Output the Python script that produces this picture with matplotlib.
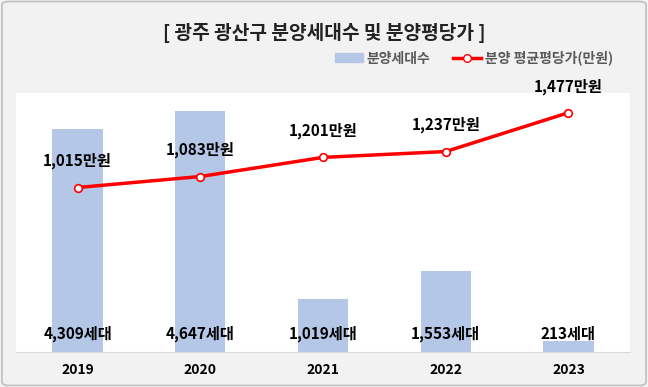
import matplotlib.pyplot as plt
from matplotlib.patches import FancyBboxPatch
from matplotlib.lines import Line2D
from matplotlib.patches import Patch

plt.rcParams['font.family'] = ['Noto Sans CJK KR', 'DejaVu Sans']

years = ["2019", "2020", "2021", "2022", "2023"]
units = [4309, 4647, 1019, 1553, 213]
prices = [1015, 1083, 1201, 1237, 1477]

fig = plt.figure(figsize=(6.48, 3.87), dpi=100, facecolor="#F2F2F2")
fig.patches.append(FancyBboxPatch((0.003, 0.004), 0.994, 0.992, boxstyle="round,pad=0,rounding_size=0.01",
                                  transform=fig.transFigure, fill=False, edgecolor="#BFBFBF", lw=1.2))

ax = fig.add_axes([0.025, 0.0904, 0.947, 0.67])
ax.set_facecolor("white")
x = range(len(years))
ax.bar(x, units, width=0.41, color="#B4C7E7", zorder=2)
ax.set_xlim(-0.5, 4.5)
ax.set_ylim(0, 5000)
ax.set_yticks([])
ax.set_xticks(list(x))
ax.set_xticklabels(years, fontsize=10, fontweight="bold")
ax.tick_params(axis="x", length=0, pad=8)
for s in ["top", "left", "right"]:
    ax.spines[s].set_visible(False)
ax.spines["bottom"].set_color("#D9D9D9")

for i, v in enumerate(units):
    ax.text(i, 360, f"{v:,}세대", ha="center", va="center", fontsize=11, fontweight="bold", zorder=5)

ax2 = ax.twinx()
ax2.plot(list(x), prices, color="#FF0000", lw=2.5, marker="o", markersize=5.5,
         markerfacecolor="white", markeredgecolor="#FF0000", markeredgewidth=1.2, zorder=4)
ax2.set_ylim(0, 1600)
ax2.set_yticks([])
for s in ["top", "left", "right", "bottom"]:
    ax2.spines[s].set_visible(False)
for i, v in enumerate(prices):
    ax2.annotate(f"{v:,}만원", (i, v), xytext=(0, 13), textcoords="offset points",
                 ha="center", va="bottom", fontsize=11, fontweight="bold")

fig.text(0.5, 0.915, "[ 광주 광산구 분양세대수 및 분양평당가 ]", ha="center", va="center",
         fontsize=13.8, fontweight="bold", color="#222222")

handles = [Patch(color="#B4C7E7", label="분양세대수"),
           Line2D([0], [0], color="#FF0000", lw=2.5, marker="o", markersize=5.5,
                  markerfacecolor="white", markeredgecolor="#FF0000", label="분양 평균평당가(만원)")]
fig.legend(handles=handles, loc="center right", bbox_to_anchor=(0.965, 0.85), ncol=2, frameon=False,
           labelcolor="#595959", handlelength=2.0, handleheight=0.6, handletextpad=0.3,
           columnspacing=1.6, prop={"weight": "bold", "size": 10})

fig.savefig("out.png", dpi=100, facecolor=fig.get_facecolor())
